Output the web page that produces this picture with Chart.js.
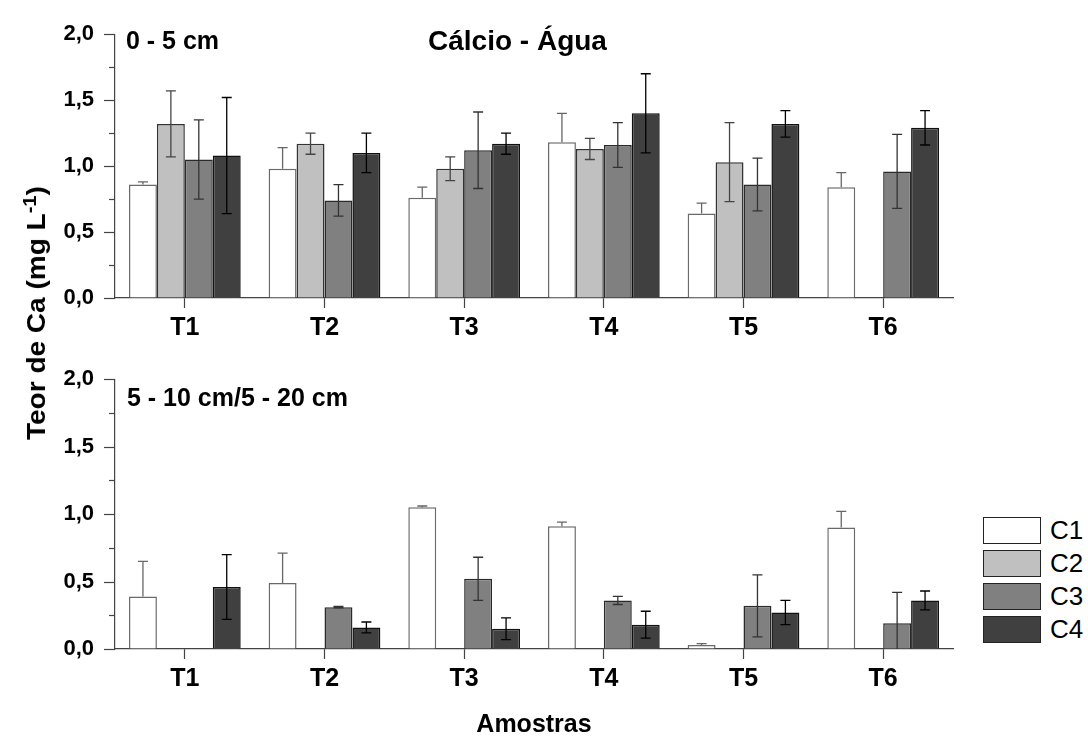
<!DOCTYPE html>
<html>
<head>
<meta charset="utf-8">
<script src="https://cdn.jsdelivr.net/npm/chart.js@4"></script>
<style>
  html,body{margin:0;padding:0;background:#fff;}
  body{width:1088px;height:738px;position:relative;overflow:hidden;font-family:"Liberation Sans",Arial,sans-serif;}
  canvas{position:absolute;left:0;}
  .lbl{position:absolute;white-space:nowrap;line-height:1;font-weight:bold;color:#000;}
  #yTitle{left:35px;top:313px;font-size:25px;transform:translate(-50%,-50%) rotate(-90deg) scaleX(1.12);}
  #yTitle sup{font-size:0.72em;vertical-align:0.5em;}
  #legend{position:absolute;left:983px;top:516px;}
  .leg-item{height:28px;margin-bottom:5px;display:flex;align-items:center;}
  .leg-box{width:56px;height:25px;border:1.5px solid #222;}
  .leg-txt{margin-left:9px;font-size:26px;line-height:1;}
</style>
</head>
<body>

<canvas id="chartTop" width="960" height="345" style="top:0px"></canvas>
<canvas id="chartBot" width="960" height="393" style="top:345px"></canvas>

<div class="lbl" style="left:126px;top:28px;font-size:25px;">0 - 5 cm</div>
<div class="lbl" style="left:428px;top:27px;font-size:28px;">Cálcio - Água</div>
<div class="lbl" style="left:127px;top:385px;font-size:25px;">5 - 10 cm/5 - 20 cm</div>
<div class="lbl" id="yTitle">Teor de Ca (mg L<sup>-1</sup>)</div>
<div id="legend"></div>

<script>
// ===== DATA =====
const categories = ['T1','T2','T3','T4','T5','T6'];
const seriesNames = ['C1','C2','C3','C4'];

// 0 - 5 cm
const c1Top = [0.86, 0.98, 0.76, 1.18, 0.64, 0.84];
const c1TopErr = [0.02, 0.16, 0.08, 0.22, 0.08, 0.11];
const c2Top = [1.32, 1.17, 0.98, 1.13, 1.03, null];
const c2TopErr = [0.25, 0.08, 0.09, 0.08, 0.30, null];
const c3Top = [1.05, 0.74, 1.12, 1.16, 0.86, 0.96];
const c3TopErr = [0.30, 0.12, 0.29, 0.17, 0.20, 0.28];
const c4Top = [1.08, 1.10, 1.17, 1.40, 1.32, 1.29];
const c4TopErr = [0.44, 0.15, 0.08, 0.30, 0.10, 0.13];

// 5 - 10 cm / 5 - 20 cm
const c1Bot = [0.39, 0.49, 1.05, 0.91, 0.03, 0.90];
const c1BotErr = [0.26, 0.22, 0.01, 0.03, 0.01, 0.12];
const c2Bot = [null, null, null, null, null, null];
const c2BotErr = [null, null, null, null, null, null];
const c3Bot = [null, 0.31, 0.52, 0.36, 0.32, 0.19];
const c3BotErr = [null, 0.005, 0.16, 0.03, 0.23, 0.23];
const c4Bot = [0.46, 0.16, 0.15, 0.18, 0.27, 0.36];
const c4BotErr = [0.24, 0.04, 0.08, 0.10, 0.09, 0.07];

const yTicks = [0, 0.5, 1.0, 1.5, 2.0];

// ===== STYLE =====
const fills = ['#ffffff','#c0c0c0','#808080','#404040'];
const borders = ['#6a6a6a','#333333','#2a2a2a','#111111'];
const errColors = ['#666666','#444444','#333333','#000000'];
const upOnly = [true,false,false,false]; // C1 só mostra barra de erro para cima
const FONT = '"Liberation Sans", Arial, sans-serif';
const AXIS = '#444';

// ===== PLUGINS =====
const errorBars = {
  id:'errorBars',
  afterDatasetsDraw(chart){
    const ctx = chart.ctx;
    const y = chart.scales.y;
    const area = chart.chartArea;
    ctx.save();
    ctx.beginPath();
    ctx.rect(area.left, area.top - 2, area.right - area.left, area.bottom - area.top + 2);
    ctx.clip();
    chart.data.datasets.forEach((ds,i)=>{
      const meta = chart.getDatasetMeta(i);
      meta.data.forEach((bar,j)=>{
        const v = ds.data[j];
        const e = ds.errors[j];
        if(v === null || e === null) return;
        const top = y.getPixelForValue(v + e);
        const bot = upOnly[i] ? bar.y : y.getPixelForValue(v - e);
        ctx.strokeStyle = errColors[i];
        ctx.lineWidth = 1.3;
        ctx.beginPath();
        ctx.moveTo(bar.x, top); ctx.lineTo(bar.x, bot);
        ctx.moveTo(bar.x - 5, top); ctx.lineTo(bar.x + 5, top);
        if(!upOnly[i]){
          ctx.moveTo(bar.x - 5, bot); ctx.lineTo(bar.x + 5, bot);
        }
        ctx.stroke();
      });
    });
    ctx.restore();
  }
};

// ticks do eixo y: maiores em 0,5 e menores em 0,25
const yTickMarks = {
  id:'yTickMarks',
  afterDraw(chart){
    const ctx = chart.ctx;
    const s = chart.scales.y;
    ctx.save();
    ctx.strokeStyle = AXIS;
    ctx.lineWidth = 1.2;
    s.ticks.forEach(t=>{
      const py = Math.round(s.getPixelForValue(t.value)) + 0.5;
      const len = yTicks.includes(Math.round(t.value*100)/100) ? 11 : 6;
      ctx.beginPath();
      ctx.moveTo(s.right - len, py);
      ctx.lineTo(s.right, py);
      ctx.stroke();
    });
    ctx.restore();
  }
};

// ===== CHART =====
function makeDatasets(vals, errs){
  return seriesNames.map((name,i)=>({
    label:name,
    data:vals[i],
    errors:errs[i],
    backgroundColor:fills[i],
    borderColor:borders[i],
    borderWidth:1.5,
    categoryPercentage:0.8,
    barPercentage:1.0
  }));
}

function makeChart(id, datasets, padTop, xHeight, showTitle){
  return new Chart(document.getElementById(id), {
    type:'bar',
    data:{ labels:categories, datasets:datasets },
    options:{
      responsive:false,
      animation:false,
      devicePixelRatio:1,
      layout:{ padding:{ top:padTop, right:7, left:0, bottom:0 } },
      plugins:{ legend:{ display:false }, tooltip:{ enabled:false } },
      scales:{
        x:{
          offset:true,
          grid:{ drawOnChartArea:false, offset:false, tickLength:10, tickColor:AXIS, tickWidth:1.2 },
          border:{ color:AXIS, width:1.2 },
          ticks:{ color:'#000', padding:5, font:{ family:FONT, size:25, weight:'bold' } },
          title:{
            display:showTitle, text:'Amostras', color:'#000', padding:0,
            font:{ family:FONT, size:25, weight:'bold', lineHeight:1 }
          },
          afterFit:(s)=>{ s.height = xHeight; }
        },
        y:{
          min:0, max:2,
          grid:{ drawOnChartArea:false, drawTicks:false },
          border:{ color:AXIS, width:1.2 },
          ticks:{
            stepSize:0.25, padding:21, color:'#000',
            font:{ family:FONT, size:22, weight:'bold' },
            callback:(v)=> yTicks.includes(Math.round(v*100)/100) ? v.toFixed(1).replace('.',',') : ''
          },
          afterFit:(s)=>{ s.width = 115; }
        }
      }
    },
    plugins:[errorBars, yTickMarks]
  });
}

makeChart('chartTop',
  makeDatasets([c1Top,c2Top,c3Top,c4Top],[c1TopErr,c2TopErr,c3TopErr,c4TopErr]),
  25, 47, false);

makeChart('chartBot',
  makeDatasets([c1Bot,c2Bot,c3Bot,c4Bot],[c1BotErr,c2BotErr,c3BotErr,c4BotErr]),
  32, 89, true);

// ===== LEGEND =====
document.getElementById('legend').innerHTML = seriesNames.map((n,i)=>
  `<div class="leg-item"><div class="leg-box" style="background:${fills[i]}"></div><span class="leg-txt">${n}</span></div>`
).join('');
</script>
</body>
</html>
